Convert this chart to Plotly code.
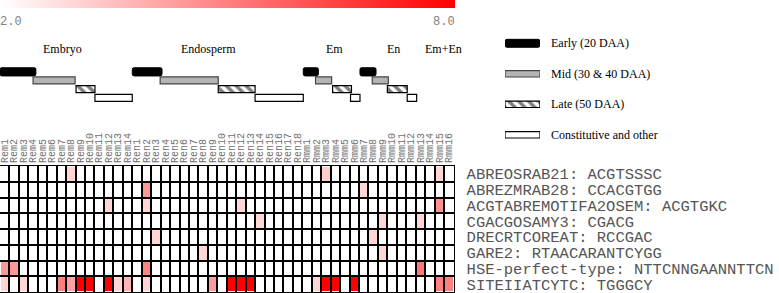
import plotly.graph_objects as go

W, H = 779, 293

# ---------------- data ----------------
columns = ["Rem1", "Rem2", "Rem3", "Rem4", "Rem5", "Rem6", "Rem7", "Rem8", "Rem9", "Rem10",
           "Rem11", "Rem12", "Rem13", "Rem14",
           "Ren1", "Ren2", "Ren3", "Ren4", "Ren5", "Ren6", "Ren7", "Ren8", "Ren9", "Ren10",
           "Ren11", "Ren12", "Ren13", "Ren14", "Ren15", "Ren16", "Ren17", "Ren18",
           "Rmm1", "Rmm2", "Rmm3", "Rmm4", "Rmm5", "Rmm6", "Rmm7", "Rmm8", "Rmm9", "Rmm10",
           "Rmm11", "Rmm12", "Rmm13", "Rmm14", "Rmm15", "Rmm16"]

motifs = ["ABREOSRAB21: ACGTSSSC",
          "ABREZMRAB28: CCACGTGG",
          "ACGTABREMOTIFA2OSEM: ACGTGKC",
          "CGACGOSAMY3: CGACG",
          "DRECRTCOREAT: RCCGAC",
          "GARE2: RTAACARANTCYGG",
          "HSE-perfect-type: NTTCNNGAANNTTCN",
          "SITEIIATCYTC: TGGGCY"]

# enrichment score per (motif, column); 0 = not enriched
abre_osrab21 = [0, 0, 0, 0, 0, 0, 0, 3.0, 0, 0, 0, 0, 0, 0, 0, 0, 0, 0, 0, 0, 0, 0, 0, 0,
                0, 0, 0, 0, 0, 0, 0, 0, 0, 0, 3.2, 0, 0, 0, 0, 0, 0, 0, 0, 0, 0, 0, 3.0, 0]
abre_zmrab28 = [0, 0, 0, 0, 0, 0, 0, 0, 0, 0, 0, 0, 0, 0, 0, 4.4, 0, 0, 0, 0, 0, 0, 0, 0,
                0, 0, 0, 0, 0, 0, 0, 0, 0, 0, 0, 0, 0, 0, 3.0, 0, 0, 0, 0, 0, 0, 0, 0, 0]
acgt_abre = [0, 0, 0, 0, 0, 0, 0, 0, 0, 0, 0, 3.0, 0, 0, 0, 3.0, 0, 0, 0, 0, 0, 0, 0, 0,
             0, 3.0, 0, 0, 0, 0, 0, 0, 0, 0, 0, 0, 0, 0, 0, 0, 0, 0, 0, 0, 0, 0, 4.6, 0]
cgacg_amy3 = [0, 0, 0, 0, 0, 0, 0, 0, 0, 0, 0, 0, 0, 0, 0, 0, 0, 0, 0, 0, 0, 0, 0, 0,
              0, 0, 0, 3.0, 0, 0, 0, 0, 0, 0, 0, 0, 0, 0, 0, 0, 3.0, 0, 0, 0, 3.0, 0, 0, 0]
dre_crt = [0, 0, 0, 0, 0, 0, 0, 0, 0, 0, 0, 0, 0, 0, 0, 0, 3.0, 0, 0, 0, 0, 0, 0, 0,
           0, 0, 0, 0, 0, 0, 0, 0, 0, 0, 0, 0, 0, 0, 0, 3.0, 0, 0, 0, 0, 0, 0, 0, 0]
gare2 = [0, 0, 0, 0, 0, 0, 0, 0, 0, 0, 0, 0, 0, 0, 0, 0, 0, 0, 0, 0, 0, 3.0, 0, 0,
         0, 0, 0, 0, 0, 0, 0, 0, 0, 0, 0, 0, 0, 0, 0, 0, 3.0, 0, 0, 0, 0, 0, 0, 0]
hse_perfect = [4.4, 4.4, 0, 0, 0, 0, 0, 0, 0, 0, 0, 0, 0, 0, 0, 4.9, 0, 0, 0, 0, 0, 0, 0, 0,
               0, 0, 0, 0, 0, 0, 0, 0, 0, 0, 0, 0, 0, 0, 0, 0, 0, 0, 0, 0, 5.2, 0, 0, 0]
site_ii = [3.0, 0, 3.0, 0, 0, 0, 5.0, 4.2, 8.0, 8.0, 0, 8.0, 3.0, 3.8, 0, 3.0, 0, 0, 0, 0, 0, 0, 4.4, 0,
           8.0, 8.0, 8.0, 0, 0, 0, 0, 0, 0, 3.0, 8.0, 8.0, 0, 8.0, 0, 0, 0, 0, 0, 0, 0, 0, 5.0, 5.0]

scale_min, scale_max = 2.0, 8.0
scale_ticks = ["2.0", "8.0"]

# schematic expression-stage spans (column edges) for Embryo, Endosperm, Em, En
stage_names = ["Early (20 DAA)", "Mid (30 & 40 DAA)", "Late (50 DAA)", "Constitutive and other"]
early_start = [0.0, 14.0, 32.1, 38.1]
early_end = [3.8, 17.15, 33.7, 39.8]
mid_start = [3.5, 16.95, 33.4, 39.4]
mid_end = [7.95, 23.1, 35.1, 41.1]
late_start = [8.05, 23.1, 35.2, 41.0]
late_end = [10.05, 27.0, 37.2, 43.1]
const_start = [10.05, 27.0, 37.1, 43.1]
const_end = [14.0, 32.1, 38.1, 44.1]

groups = ["Embryo", "Endosperm", "Em", "En", "Em+En"]
group_label_pos = [6.57, 22.05, 35.4, 41.65, 46.9]

# ---------------- figure ----------------
z = [abre_osrab21, abre_zmrab28, acgt_abre, cgacg_amy3, dre_crt, gare2, hse_perfect, site_ii]
ncol, nrow = len(columns), len(motifs)


def px_x(p):
    return p / W


def px_y(p):
    return 1 - p / H


fig = go.Figure()

fig.add_trace(go.Heatmap(
    z=z, x=list(range(ncol)), y=list(range(nrow)),
    zmin=scale_min, zmax=scale_max,
    colorscale=[[0, "#ffffff"], [1, "#ff0000"]],
    xgap=2, ygap=2, hoverinfo="skip",
    colorbar=dict(orientation="h", x=0, xanchor="left", y=1, yanchor="top",
                  thickness=8, len=455, lenmode="pixels", xpad=0, ypad=0,
                  outlinewidth=0, showticklabels=False, ticks=""),
))

stage_styles = [
    dict(color="#000000", line=dict(color="#000000", width=1), cornerradius=2),
    dict(color="#b4b4b4", line=dict(color="#444444", width=1.2)),
    dict(color="#ffffff", line=dict(color="#000000", width=1.2),
         pattern=dict(shape="\\", fgcolor="#000000", bgcolor="#ffffff", size=7, solidity=0.5,
                      fillmode="overlay")),
    dict(color="#ffffff", line=dict(color="#000000", width=1.2)),
]
stage_starts = [early_start, mid_start, late_start, const_start]
stage_ends = [early_end, mid_end, late_end, const_end]
widths = [0.98, 0.8, 0.8, 0.8]
leg_widths = [0.26, 0.21, 0.21, 0.21]

for k in range(4):
    st = stage_starts[k]
    en = stage_ends[k]
    mk = stage_styles[k]
    fig.add_trace(go.Bar(
        orientation="h", base=[s - 0.5 for s in st], x=[e - s for s, e in zip(st, en)],
        y=[k] * len(st), width=widths[k], marker=mk,
        xaxis="x2", yaxis="y2", showlegend=False, hoverinfo="skip"))
    # legend swatch
    fig.add_trace(go.Bar(
        orientation="h", base=[0], x=[1], y=[k], width=[leg_widths[k]], marker=mk,
        xaxis="x3", yaxis="y3", showlegend=False, hoverinfo="skip"))

leg_top, leg_pitch = 43.3, 30.5
annotations = []
for k, name in enumerate(stage_names):
    annotations.append(dict(
        x=px_x(549), y=px_y(leg_top + k * leg_pitch), xref="paper", yref="paper",
        text=name, showarrow=False, xanchor="left", yanchor="middle",
        font=dict(family="Liberation Serif", size=12, color="#000000")))

for g, pos in zip(groups, group_label_pos):
    annotations.append(dict(
        x=pos - 0.5, y=px_y(49.5), xref="x", yref="paper", text=g, showarrow=False,
        xanchor="center", yanchor="middle",
        font=dict(family="Liberation Serif", size=12, color="#000000")))

annotations.append(dict(x=0, y=px_y(22), xref="paper", yref="paper", text=scale_ticks[0],
                        showarrow=False, xanchor="left", yanchor="middle", xshift=-2,
                        font=dict(family="Liberation Mono", size=12, color="#808080")))
annotations.append(dict(x=px_x(455), y=px_y(22), xref="paper", yref="paper", text=scale_ticks[1],
                        showarrow=False, xanchor="right", yanchor="middle", xshift=2,
                        font=dict(family="Liberation Mono", size=12, color="#808080")))

lvl_pitch = 8.7
lvl0 = 71.7
xdom = [0, px_x(453.5)]
xrange_ = [-0.5, ncol - 0.5]
fig.update_layout(
    width=W, height=H,
    margin=dict(l=0, r=0, t=0, b=0, autoexpand=False),
    paper_bgcolor="#ffffff", plot_bgcolor="#ffffff",
    showlegend=False, barmode="overlay",
    annotations=annotations,
    xaxis=dict(domain=xdom, range=xrange_,
               tickmode="array", tickvals=list(range(ncol)), ticktext=columns,
               side="top", tickangle=-90, ticks="", ticklabelstandoff=0,
               ticklabeloverflow="allow",
               tickfont=dict(family="Liberation Mono", size=10, color="#707070"),
               showgrid=False, zeroline=False, showline=True, mirror=True,
               linecolor="#000000", linewidth=1, anchor="y",
               minor=dict(tick0=-0.5, dtick=1, showgrid=True, gridcolor="#000000",
                          gridwidth=2, ticks="")),
    yaxis=dict(domain=[px_y(292), px_y(166)], range=[nrow - 0.5, -0.5],
               tickmode="array", tickvals=list(range(nrow)), ticktext=motifs,
               side="right", ticks="", ticklabelstandoff=9, ticklabeloverflow="allow",
               tickfont=dict(family="Liberation Mono", size=15.5, color="#555555"),
               showgrid=False, zeroline=False, showline=True, mirror=True,
               linecolor="#000000", linewidth=1, anchor="x",
               minor=dict(tick0=-0.5, dtick=1, showgrid=True, gridcolor="#000000",
                          gridwidth=2, ticks="")),
    xaxis2=dict(domain=xdom, range=xrange_, visible=False, anchor="y2"),
    yaxis2=dict(domain=[px_y(lvl0 + 3 * lvl_pitch + lvl_pitch / 2), px_y(lvl0 - lvl_pitch / 2)],
                range=[3.5, -0.5], visible=False, anchor="x2"),
    xaxis3=dict(domain=[px_x(505), px_x(540)], range=[0, 1], visible=False, anchor="y3"),
    yaxis3=dict(domain=[px_y(leg_top + 3.5 * leg_pitch), px_y(leg_top - 0.5 * leg_pitch)],
                range=[3.5, -0.5], visible=False, anchor="x3"),
)

fig.write_html("out.html", config={"displayModeBar": False},
               post_script="document.body.style.margin='0px';document.body.style.overflow='hidden';")
